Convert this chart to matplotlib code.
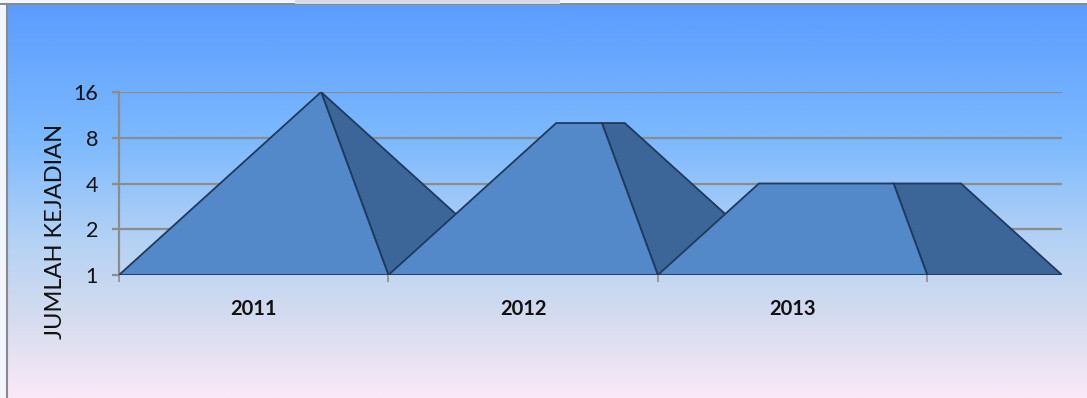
import numpy as np
import matplotlib.pyplot as plt
from matplotlib.patches import Polygon, Rectangle
from matplotlib.colors import LinearSegmentedColormap

# data
years = ['2011', '2012', '2013']
jumlah = [16, 10, 4]
ymax = 16

# styles
front_col = '#5389C8'
side_col = '#3D6698'
edge_col = '#1E3A5E'
grid_col = '#8C8C8C'
depth = 0.5   # horizontal depth offset, in category units

plt.rcParams['font.family'] = ['Lato', 'DejaVu Sans']

fig = plt.figure(figsize=(10.87, 3.98), dpi=100)
fig.patch.set_facecolor('#F2F7FE')

# background gradient (blue at top, pink at bottom)
bg = fig.add_axes([7 / 1087, 0, 1 - 7 / 1087, 1 - 4 / 398], zorder=-10)
cmap = LinearSegmentedColormap.from_list('bg', [
    (0.0, '#5C9CFE'), (0.35, '#7DBAFE'), (0.6, '#B4D2F4'),
    (0.8, '#D5DCEE'), (1.0, '#FBE9F9')])
bg.imshow(np.linspace(0, 1, 256).reshape(-1, 1), aspect='auto', cmap=cmap,
          extent=[0, 1, 0, 1], origin='upper')
bg.set_xlim(0, 1)
bg.set_ylim(0, 1)
for s in ['top', 'right', 'bottom']:
    bg.spines[s].set_visible(False)
bg.spines['left'].set_color('#8A8A8A')
bg.spines['left'].set_linewidth(1.5)
bg.set_xticks([])
bg.set_yticks([])
fig.add_artist(Rectangle((0, 1 - 5 / 398), 1, 1.5 / 398, transform=fig.transFigure,
                         color='#8A8A8A', lw=0))
fig.add_artist(Rectangle((295 / 1087, 1 - 4 / 398), 265 / 1087, 4 / 398,
                         transform=fig.transFigure, color='#D8DCE2', lw=0))

ax = fig.add_axes([119 / 1087, (398 - 275) / 398, (1062 - 119) / 1087, (275 - 92) / 398])
ax.patch.set_alpha(0)
ax.set_yscale('log', base=2)
ax.set_ylim(1, ymax)
ax.set_xlim(0, len(years) + depth)

ly = np.log2(ymax)
for i, v in enumerate(jumlah):
    t = np.log2(v) / ly
    fl, fr, br = i, i + 1, i + 1 + depth
    apex = (fl + br) / 2
    tfl = fl + t * (apex - fl)
    tfr = fr + t * (apex - fr)
    tbr = br + t * (apex - br)
    front = Polygon([(fl, 1), (fr, 1), (tfr, v), (tfl, v)], closed=True,
                    fc=front_col, ec=edge_col, lw=1.3, zorder=3 + 2 * i, joinstyle='miter')
    side = Polygon([(fr, 1), (br, 1), (tbr, v), (tfr, v)], closed=True,
                   fc=side_col, ec=edge_col, lw=1.3, zorder=3 + 2 * i, joinstyle='miter')
    ax.add_patch(side)
    ax.add_patch(front)

ax.set_yticks([1, 2, 4, 8, 16])
ax.set_yticklabels(['1', '2', '4', '8', '16'])
ax.yaxis.set_minor_locator(plt.NullLocator())
ax.yaxis.grid(True, color=grid_col, lw=1.6, zorder=0)
ax.set_axisbelow(True)
ax.set_xticks(range(len(years) + 1))
ax.set_xticklabels([])
for i, y in enumerate(years):
    ax.text(i + 0.5, -0.185, y, transform=ax.get_xaxis_transform(), ha='center', va='center',
            fontsize=14.5, fontweight='bold', color='#111111')
ax.tick_params(axis='y', length=5, width=1.6, color=grid_col, labelsize=15.5, pad=10,
               labelcolor='#111111')
ax.tick_params(axis='x', length=5, width=1.2, color=grid_col)
for s in ['top', 'right', 'bottom']:
    ax.spines[s].set_visible(False)
ax.spines['left'].set_color(grid_col)
ax.spines['left'].set_linewidth(1.6)
ax.set_ylabel('JUMLAH KEJADIAN', fontsize=17, color='#111111')
ax.yaxis.set_label_coords(-53 / 943, 0.238)

fig.savefig('out.png', dpi=100)
